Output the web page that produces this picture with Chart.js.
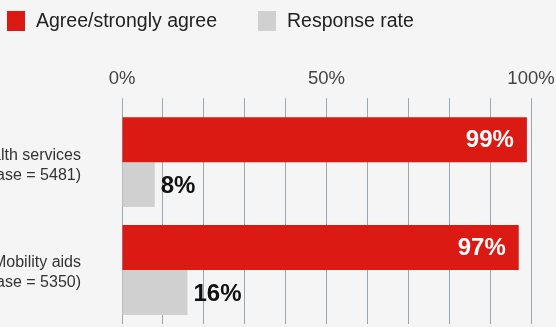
<!DOCTYPE html>
<html>
<head>
<meta charset="utf-8">
<script src="https://cdn.jsdelivr.net/npm/chart.js@4.4.1/dist/chart.umd.min.js"></script>
<style>
  html, body { margin: 0; padding: 0; background: #f5f5f5; overflow: hidden; }
  #wrap { position: relative; width: 556px; height: 327px; }
  #legend { position: absolute; left: 7px; top: 9px; display: flex; align-items: center;
            font-family: "Liberation Sans", Arial, sans-serif; font-size: 19.5px; color: #222; }
  #legend .item { display: flex; align-items: center; margin-right: 41px; }
  #legend .box { width: 18px; height: 20px; margin-right: 11px; }
  #wrap canvas { position: absolute; left: 0; top: 0; }
</style>
</head>
<body>
<div id="wrap">
  <canvas id="grafico"></canvas>
  <div id="legend"></div>
</div>
<script>
// Dados do gráfico
const categorias = [
    ['Health services', '(Base = 5481)'],
    ['Mobility aids', '(Base = 5350)']
];
const concordam = [99, 97];      // Agree/strongly agree (%)
const taxaResposta = [8, 16];    // Response rate (%)
const ticksEixo = [0, 50, 100];  // rótulos visíveis no eixo x

const FONTE = '"Liberation Sans", Arial, sans-serif';

// Rótulos de valor nas barras
const rotulosValor = {
    id: 'rotulosValor',
    afterDatasetsDraw(chart) {
        const ctx = chart.ctx;
        chart.data.datasets.forEach((ds, i) => {
            chart.getDatasetMeta(i).data.forEach((bar, j) => {
                const txt = ds.data[j] + '%';
                ctx.save();
                ctx.font = 'bold 24px ' + FONTE;
                ctx.textBaseline = 'middle';
                if (i === 0) {
                    ctx.fillStyle = '#ffffff';
                    ctx.textAlign = 'right';
                    ctx.fillText(txt, bar.x - 13, bar.y + 1);
                } else {
                    ctx.fillStyle = '#111111';
                    ctx.textAlign = 'left';
                    ctx.fillText(txt, bar.x + 6, bar.y + 2);
                }
                ctx.restore();
            });
        });
    }
};

const chart = new Chart(document.getElementById('grafico').getContext('2d'), {
    type: 'bar',
    data: {
        labels: categorias,
        datasets: [{
            label: 'Agree/strongly agree',
            data: concordam,
            backgroundColor: '#dc1a14',
            categoryPercentage: 0.833,
            barPercentage: 1
        }, {
            label: 'Response rate',
            data: taxaResposta,
            backgroundColor: '#d0d0d0',
            categoryPercentage: 0.833,
            barPercentage: 1
        }]
    },
    options: {
        indexAxis: 'y',
        responsive: true,
        maintainAspectRatio: false,
        animation: false,
        layout: { padding: { top: 60, right: 25, bottom: 3, left: 0 } },
        plugins: {
            legend: { display: false },
            tooltip: { enabled: false }
        },
        scales: {
            x: {
                position: 'top',
                min: 0,
                max: 100,
                afterFit: s => { s.paddingRight = 0; s.paddingLeft = 0; },
                border: { display: false },
                grid: { color: '#9ba6af', tickLength: 10 },
                ticks: {
                    stepSize: 10,
                    autoSkip: false,
                    maxRotation: 0,
                    padding: 8,
                    color: '#444',
                    font: { family: FONTE, size: 18.5 },
                    callback: v => ticksEixo.includes(v) ? v + '%' : ''
                }
            },
            y: {
                afterFit: s => { s.width = 122; s.paddingTop = 0; s.paddingBottom = 0; },
                border: { display: false },
                grid: { display: false, drawTicks: false },
                ticks: {
                    padding: 41,
                    labelOffset: 3,
                    color: '#333',
                    font: { family: FONTE, size: 16, lineHeight: 1.25 }
                }
            }
        }
    },
    plugins: [rotulosValor]
});

// Legenda em HTML (posições fixas como no original)
const legenda = document.getElementById('legend');
chart.data.datasets.forEach(ds => {
    const item = document.createElement('div');
    item.className = 'item';
    item.innerHTML = '<span class="box" style="background:' + ds.backgroundColor + '"></span><span>' + ds.label + '</span>';
    legenda.appendChild(item);
});
</script>
</body>
</html>
